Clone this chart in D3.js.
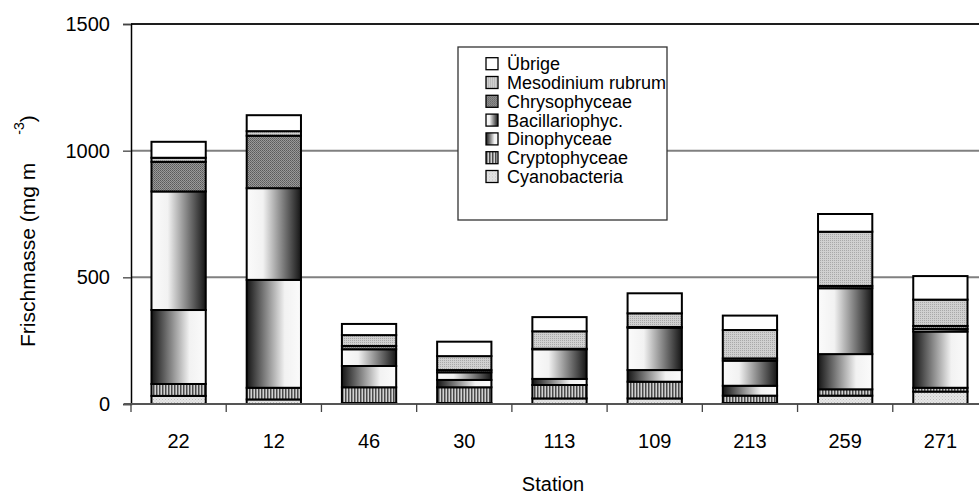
<!DOCTYPE html>
<html>
<head>
<meta charset="utf-8">
<script src="https://cdn.jsdelivr.net/npm/d3@7"></script>
<style>
  html, body { margin: 0; padding: 0; background: #fff; }
  svg { display: block; font-family: "Liberation Sans", Arial, sans-serif; }
</style>
</head>
<body>
<svg id="chart" width="979" height="496"></svg>
<script>
// ---- data ----
const stations = ["22", "12", "46", "30", "113", "109", "213", "259", "271"];
const groups = ["Cyanobacteria", "Cryptophyceae", "Dinophyceae", "Bacillariophyc.", "Chrysophyceae", "Mesodinium rubrum", "Übrige"];
const cyanobacteria   = [32, 18, 4, 4, 22, 22, 4, 33, 49];
const cryptophyceae   = [47, 46, 62, 62, 53, 66, 29, 25, 15];
const dinophyceae     = [292, 426, 84, 29, 24, 46, 39, 139, 222];
const bacillariophyc  = [468, 362, 66, 30, 117, 167, 99, 260, 10];
const chrysophyceae   = [117, 207, 13, 9, 2, 3, 9, 9, 12];
const mesodinium      = [16, 18, 43, 55, 69, 54, 112, 214, 104];
const uebrige         = [63, 63, 44, 57, 56, 79, 57, 70, 93];
const yTicks = [0, 500, 1000, 1500];
const yTitle = "Frischmasse (mg m";
const yTitleSup = "-3";
const xTitle = "Station";

const seriesValues = [cyanobacteria, cryptophyceae, dinophyceae, bacillariophyc, chrysophyceae, mesodinium, uebrige];
const table = stations.map((s, i) => {
  const row = { station: s };
  groups.forEach((g, k) => row[g] = seriesValues[k][i]);
  return row;
});

const svg = d3.select("#chart");
svg.append("rect").attr("width", 979).attr("height", 496).attr("fill", "#fff");

// ---- fills ----
const defs = svg.append("defs");
let p = defs.append("pattern").attr("id", "pCyano").attr("patternUnits", "userSpaceOnUse").attr("width", 3).attr("height", 3);
p.append("rect").attr("width", 3).attr("height", 3).attr("fill", "#e6e6e6");
p.append("rect").attr("width", 1).attr("height", 1).attr("fill", "#bdbdbd");
p.append("rect").attr("x", 1.5).attr("y", 1.5).attr("width", 1).attr("height", 1).attr("fill", "#c8c8c8");
p = defs.append("pattern").attr("id", "pCrypto").attr("patternUnits", "userSpaceOnUse").attr("width", 3).attr("height", 3);
p.append("rect").attr("width", 3).attr("height", 3).attr("fill", "#d2d2d2");
p.append("rect").attr("width", 1.5).attr("height", 3).attr("fill", "#4a4a4a");
p = defs.append("pattern").attr("id", "pChryso").attr("patternUnits", "userSpaceOnUse").attr("width", 2).attr("height", 2);
p.append("rect").attr("width", 2).attr("height", 2).attr("fill", "#9a9a9a");
p.append("rect").attr("width", 1).attr("height", 1).attr("fill", "#5a5a5a");
p.append("rect").attr("x", 1).attr("y", 1).attr("width", 1).attr("height", 1).attr("fill", "#6a6a6a");
p = defs.append("pattern").attr("id", "pMeso").attr("patternUnits", "userSpaceOnUse").attr("width", 2).attr("height", 2);
p.append("rect").attr("width", 2).attr("height", 2).attr("fill", "#d0d0d0");
p.append("rect").attr("width", 1).attr("height", 1).attr("fill", "#a8a8a8");
let g = defs.append("linearGradient").attr("id", "gDino").attr("x1", 0).attr("x2", 1).attr("y1", 0).attr("y2", 0);
g.append("stop").attr("offset", "0%").attr("stop-color", "#151515");
g.append("stop").attr("offset", "70%").attr("stop-color", "#f2f2f2");
g.append("stop").attr("offset", "100%").attr("stop-color", "#fbfbfb");
g = defs.append("linearGradient").attr("id", "gBac").attr("x1", 0).attr("x2", 1).attr("y1", 0).attr("y2", 0);
g.append("stop").attr("offset", "0%").attr("stop-color", "#fbfbfb");
g.append("stop").attr("offset", "30%").attr("stop-color", "#f2f2f2");
g.append("stop").attr("offset", "100%").attr("stop-color", "#151515");

const fills = {
  "Cyanobacteria": "url(#pCyano)",
  "Cryptophyceae": "url(#pCrypto)",
  "Dinophyceae": "url(#gDino)",
  "Bacillariophyc.": "url(#gBac)",
  "Chrysophyceae": "url(#pChryso)",
  "Mesodinium rubrum": "url(#pMeso)",
  "Übrige": "#ffffff"
};

// ---- scales ----
const x = d3.scaleBand().domain(stations).range([131, 988]).paddingInner(0.43).paddingOuter(0.215);
const y = d3.scaleLinear().domain([0, 1500]).range([404, 24]);

// gridlines
svg.append("g").selectAll("line").data(yTicks.filter(v => v > 0)).join("line")
  .attr("x1", 131).attr("x2", 979)
  .attr("y1", d => y(d)).attr("y2", d => y(d))
  .attr("stroke", d => d === 1500 ? "#1e1e1e" : "#808080")
  .attr("stroke-width", 2);

// y axis
const yAxis = svg.append("g").attr("transform", "translate(131,0)")
  .call(d3.axisLeft(y).tickValues(yTicks).tickSize(8).tickPadding(13).tickFormat(d3.format("d")));
yAxis.select(".domain").attr("stroke", "#000").attr("stroke-width", 1.5);
yAxis.selectAll(".tick line").attr("stroke", "#444").attr("stroke-width", 1.3);
yAxis.selectAll("text").attr("font-size", 20).attr("fill", "#000").attr("font-family", "Liberation Sans, Arial, sans-serif");

// bars
const stack = d3.stack().keys(groups)(table);
const layer = svg.append("g").selectAll("g").data(stack).join("g")
  .attr("fill", d => fills[d.key]);
layer.selectAll("rect").data(d => d).join("rect")
  .attr("x", d => x(d.data.station))
  .attr("width", x.bandwidth())
  .attr("y", d => y(d[1]))
  .attr("height", d => y(d[0]) - y(d[1]))
  .attr("stroke", "#000").attr("stroke-width", 2);

// x axis baseline and category ticks
const boundaries = stations.map(s => x(s) + x.bandwidth() / 2 - x.step() / 2);
svg.append("line").attr("x1", 124).attr("x2", 979).attr("y1", y(0)).attr("y2", y(0))
  .attr("stroke", "#555").attr("stroke-width", 2);
svg.append("g").selectAll("line").data(boundaries).join("line")
  .attr("x1", d => d).attr("x2", d => d).attr("y1", y(0)).attr("y2", y(0) + 8)
  .attr("stroke", "#444").attr("stroke-width", 1.3);
svg.append("g").selectAll("text").data(stations).join("text")
  .attr("x", d => x(d) + x.bandwidth() / 2).attr("y", 448)
  .attr("text-anchor", "middle").attr("font-size", 20).attr("fill", "#000")
  .text(d => d);

// axis titles
svg.append("text").attr("x", 553).attr("y", 491).attr("text-anchor", "middle")
  .attr("font-size", 20).attr("fill", "#000").text(xTitle);
const yt = svg.append("text").attr("transform", "translate(35,347) rotate(-90)")
  .attr("text-anchor", "start").attr("font-size", 21).attr("fill", "#000");
yt.append("tspan").text(yTitle);
yt.append("tspan").attr("dx", 28).attr("dy", -11).attr("font-size", 14).text(yTitleSup);
yt.append("tspan").attr("dy", 11).attr("font-size", 21).text(")");

// legend
const lg = svg.append("g");
lg.append("rect").attr("x", 458).attr("y", 47).attr("width", 209).attr("height", 173)
  .attr("fill", "#fff").attr("stroke", "#333").attr("stroke-width", 1.3);
const legendOrder = groups.slice().reverse();
const items = lg.selectAll("g.item").data(legendOrder).join("g").attr("class", "item")
  .attr("transform", (d, i) => `translate(486,${63.7 + i * 18.8})`);
items.append("rect").attr("x", 0).attr("y", -6).attr("width", 12).attr("height", 12)
  .attr("fill", d => fills[d]).attr("stroke", "#000").attr("stroke-width", 1.3);
items.append("text").attr("x", 21).attr("dy", "0.36em")
  .attr("font-size", 18).attr("fill", "#000").text(d => d);
</script>
</body>
</html>
